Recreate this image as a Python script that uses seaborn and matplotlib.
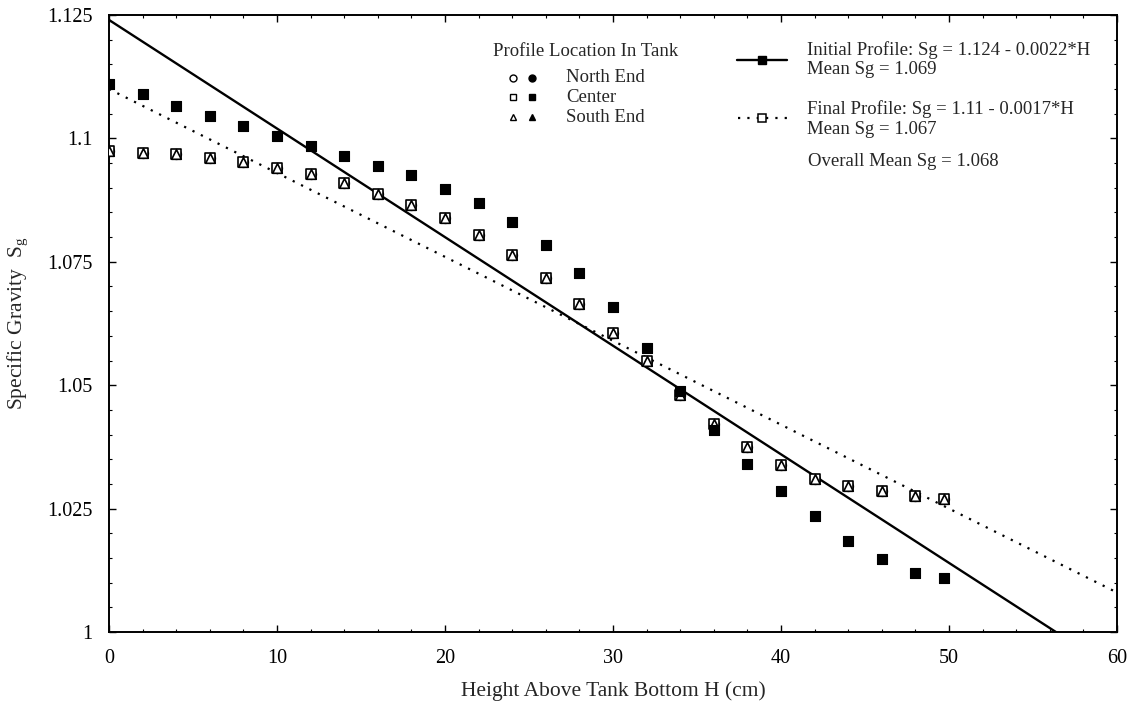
import numpy as np
import pandas as pd
import matplotlib
matplotlib.use("Agg")
import matplotlib.pyplot as plt
from matplotlib.ticker import MultipleLocator
import seaborn as sns

# ---- data ----
height_cm = [0, 2, 4, 6, 8, 10, 12, 14, 16, 18, 20, 22, 24, 26, 28, 30,
             32, 34, 36, 38, 40, 42, 44, 46, 48, 49.7]
initial_sg = [1.111, 1.109, 1.1065, 1.1045, 1.1025, 1.1005, 1.0985, 1.0965,
              1.0945, 1.0925, 1.0898, 1.087, 1.083, 1.0785, 1.0728, 1.0658,
              1.0575, 1.0488, 1.041, 1.034, 1.0285, 1.0235, 1.0185, 1.0148,
              1.012, 1.011]
final_sg = [1.0975, 1.097, 1.0968, 1.096, 1.0952, 1.094, 1.0928, 1.091,
            1.0888, 1.0865, 1.0838, 1.0805, 1.0763, 1.0717, 1.0665, 1.0605,
            1.055, 1.048, 1.0422, 1.0375, 1.0338, 1.031, 1.0295, 1.0285,
            1.0275, 1.027]
locations = ["North End", "Center", "South End"]
loc_markers = ["o", "s", "^"]

initial_fit = (1.124, -0.0022)
final_fit = (1.11, -0.0017)
fit_range = [0, 60]

x_ticks = [0, 10, 20, 30, 40, 50, 60]
y_ticks = [1, 1.025, 1.05, 1.075, 1.1, 1.125]
y_tick_labels = ["1", "1.025", "1.05", "1.075", "1.1", "1.125"]

sns.set_theme(style="ticks")
plt.rcParams["font.family"] = ["Liberation Serif", "DejaVu Serif"]
plt.rcParams["mathtext.fontset"] = "custom"
plt.rcParams["mathtext.rm"] = "Liberation Serif"
plt.rcParams["mathtext.it"] = "Liberation Serif:italic"

fig = plt.figure(figsize=(11.33, 7.04), dpi=100)
ax = fig.add_axes([109 / 1133, 1 - 632 / 704, 1008 / 1133, 617 / 704])

# fit lines
fit_df = pd.DataFrame({
    "H": np.array(fit_range * 2, dtype=float),
    "profile": ["Initial"] * 2 + ["Final"] * 2,
})
fit_df["Sg"] = np.where(fit_df["profile"] == "Initial",
                        initial_fit[0] + initial_fit[1] * fit_df["H"],
                        final_fit[0] + final_fit[1] * fit_df["H"])
sns.lineplot(data=fit_df[fit_df.profile == "Initial"], x="H", y="Sg",
             color="black", lw=1.7, ax=ax)
sns.lineplot(data=fit_df[fit_df.profile == "Final"], x="H", y="Sg",
             color="black", lw=1.6, ax=ax, linestyle=(0, (1, 3.2)))

# data points
df = pd.DataFrame({"H": height_cm, "initial": initial_sg, "final": final_sg})
for m in loc_markers:
    sns.scatterplot(data=df, x="H", y="final", marker=m, s=48,
                    facecolor="white", edgecolor="black", linewidth=1.2,
                    ax=ax, zorder=3)
for m in loc_markers:
    sns.scatterplot(data=df, x="H", y="initial", marker=m, s=48,
                    color="black", edgecolor="black", linewidth=0.8,
                    ax=ax, zorder=4)

ax.set_xlim(0, 60)
ax.set_ylim(1, 1.125)
ax.set_xticks(x_ticks)
ax.set_yticks(y_ticks)
ax.set_yticklabels(y_tick_labels)
ax.xaxis.set_minor_locator(MultipleLocator(2))
ax.yaxis.set_minor_locator(MultipleLocator(0.005))
ax.tick_params(which="both", direction="in", top=True, right=True,
               labelsize=14.5, colors="black")
ax.tick_params(which="major", length=5, width=1.0, pad=12)
ax.tick_params(which="minor", length=2.5, width=0.8)
for sp in ax.spines.values():
    sp.set_linewidth(1.4)
    sp.set_color("black")
ax.set_xlabel("Height Above Tank Bottom H (cm)", fontsize=15.5, labelpad=10)
ax.set_ylabel(r"Specific Gravity  $\mathrm{S_g}$", fontsize=15.5, labelpad=12)

# ---- legend block (left) ----
def fx(px):
    return (px - 109) / 1008

def fy(py):
    return (632 - py) / 617

T = ax.transAxes
fs = 13.5
ax.text(fx(493), fy(52), "Profile Location In Tank", transform=T,
        fontsize=fs, va="center", ha="left")
rows = [78, 97, 117]
for name, m, r in zip(locations, loc_markers, rows):
    ax.plot([fx(513)], [fy(r)], marker=m, ms=5, mfc="white", mec="black",
            mew=1.0, transform=T, ls="none")
    ax.plot([fx(532)], [fy(r)], marker=m, ms=5, mfc="black", mec="black",
            transform=T, ls="none")
    ax.text(fx(566), fy(r), name, transform=T, fontsize=fs, va="center",
            ha="left")

# ---- legend block (right) ----
ax.plot([fx(737), fx(787)], [fy(60), fy(60)], color="black", lw=1.7,
        transform=T)
ax.plot([fx(762)], [fy(60)], marker="s", ms=6, color="black", transform=T)
ax.plot([fx(738), fx(790)], [fy(118), fy(118)], color="black", lw=1.6,
        ls=(0, (1, 3.2)), transform=T)
ax.plot([fx(762)], [fy(118)], marker="s", ms=6, mfc="white", mec="black",
        mew=1.1, transform=T)
ax.text(fx(807), fy(50), "Initial Profile: Sg = 1.124 - 0.0022*H",
        transform=T, fontsize=fs, va="center", ha="left")
ax.text(fx(807), fy(70), "Mean Sg = 1.069", transform=T, fontsize=fs,
        va="center", ha="left")
ax.text(fx(807), fy(109), "Final Profile: Sg = 1.11 - 0.0017*H",
        transform=T, fontsize=fs, va="center", ha="left")
ax.text(fx(807), fy(129), "Mean Sg = 1.067", transform=T, fontsize=fs,
        va="center", ha="left")
ax.text(fx(808), fy(162), "Overall Mean Sg = 1.068", transform=T,
        fontsize=fs, va="center", ha="left")

fig.savefig("out.png", dpi=100, facecolor="white")
